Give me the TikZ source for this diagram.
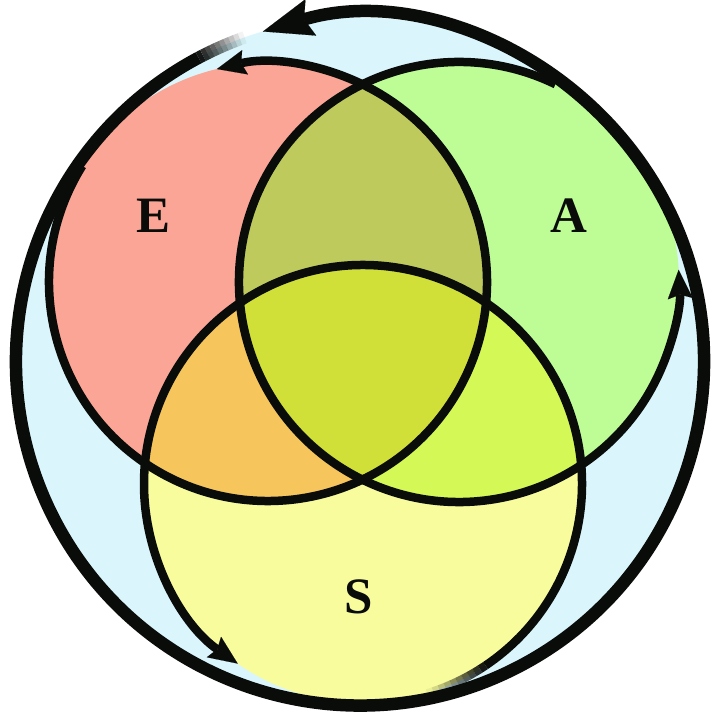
\documentclass[tikz,border=0pt]{standalone}
\usepackage{fontspec}
\setmainfont{Liberation Serif}
\usetikzlibrary{arrows.meta}
\definecolor{bgblue}{RGB}{218,246,252}
\definecolor{ecol}{RGB}{251,165,150}
\definecolor{acol}{RGB}{190,253,150}
\definecolor{scol}{RGB}{248,252,156}
\definecolor{eacol}{RGB}{190,203,92}
\definecolor{escol}{RGB}{246,198,92}
\definecolor{ascol}{RGB}{212,248,86}
\definecolor{eascol}{RGB}{208,224,56}
\definecolor{ink}{RGB}{10,12,10}
\begin{document}
\begin{tikzpicture}[x=1pt,y=1pt,
  ring/.style={line width=12.5pt,draw=ink},
  setline/.style={line width=8.5pt,draw=ink},
  bigtip/.style={-{Stealth[length=50pt,width=38pt,inset=7pt,line width=0.1pt]}},
  smalltip/.style={-{Stealth[length=29pt,width=25pt,inset=4pt,line width=0.1pt]}},
  lbl/.style={inner sep=0pt,text=ink,font=\fontsize{51}{51}\selectfont\bfseries}]
\useasboundingbox (0,0) rectangle (710,719);
\coordinate (O) at (360,357.5);
\coordinate (E) at (268,437);
\coordinate (A) at (459,437);
\coordinate (S) at (363,235);
% fills
\fill[bgblue] (O) circle[radius=344];
\fill[ecol] (E) circle[radius=219];
\fill[acol] (A) circle[radius=220];
\fill[scol] (S) circle[radius=219];
\begin{scope}
  \clip (E) circle[radius=219];
  \fill[eacol] (A) circle[radius=220];
  \fill[escol] (S) circle[radius=219];
\end{scope}
\begin{scope}
  \clip (A) circle[radius=220];
  \fill[ascol] (S) circle[radius=219];
\end{scope}
\begin{scope}
  \clip (E) circle[radius=219];
  \clip (A) circle[radius=220];
  \fill[eascol] (S) circle[radius=219];
\end{scope}
% set outlines
\draw[setline,smalltip] (E) ++(148:219) arc[start angle=148,end angle=463.5,radius=219];
\draw[setline,smalltip] (A) ++(64:220) arc[start angle=64,end angle=363.2,radius=220];
\foreach \i [evaluate=\i as \a using 287+\i*1.7, evaluate=\i as \op using (\i+0.5)/10] in {0,...,9}
  \draw[setline,draw opacity=\op] (S) ++(\a:219) arc[start angle=\a,delta angle=1.7,radius=219];
\draw[setline,smalltip] (S) ++(304:219) arc[start angle=304,end angle=595.1,radius=219];
% outer ring
\foreach \i [evaluate=\i as \a using 109.6+\i*0.84, evaluate=\i as \op using (\i+0.5)/10] in {0,...,9}
  \draw[ring,draw opacity=\op] (O) ++(\a:344) arc[start angle=\a,delta angle=0.84,radius=344];
\draw[ring,bigtip] (O) ++(118:344) arc[start angle=118,end angle=466.4,radius=344];
% labels
\node[lbl] (lE) at (153.7,503.5) {E};
\node[lbl] (lA) at (569,503.2) {A};
\node[lbl] (lS) at (359,122.3) {S};
\end{tikzpicture}
\end{document}
